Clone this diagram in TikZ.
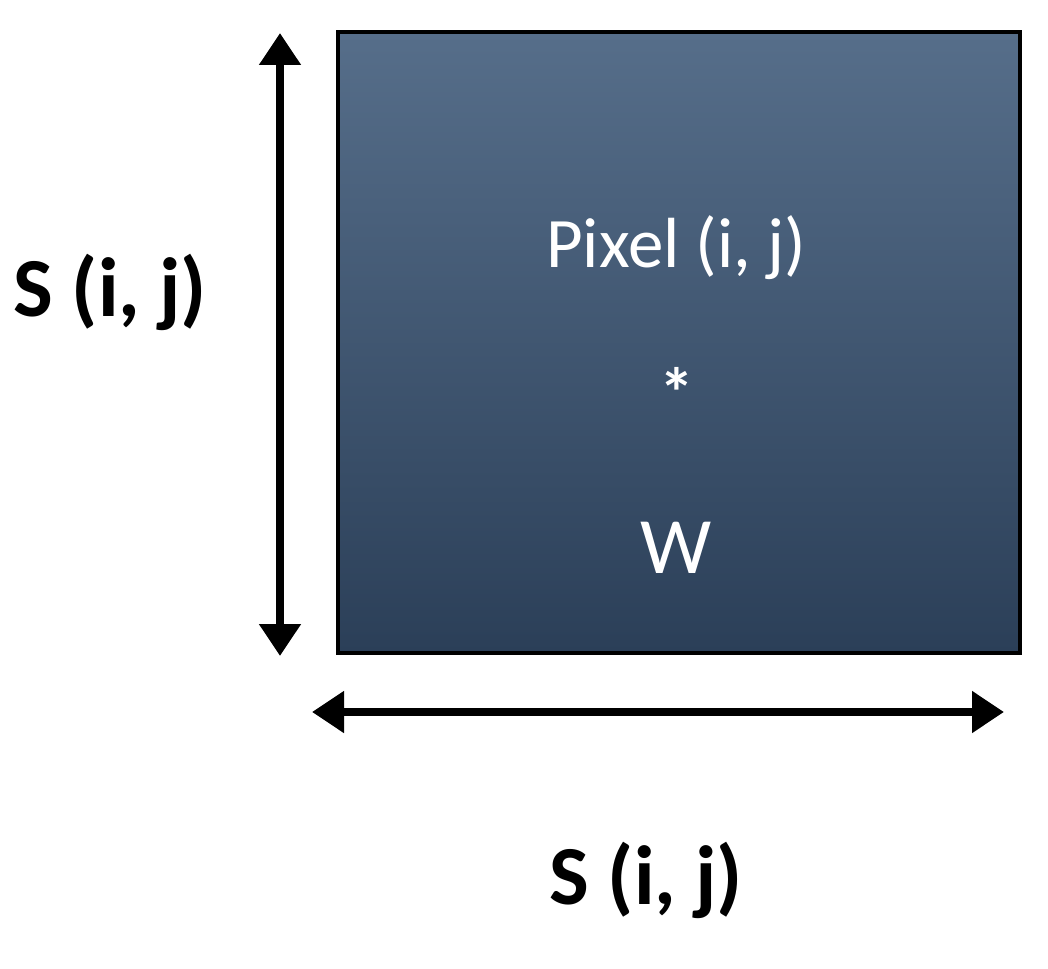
\documentclass[tikz,border=0pt]{standalone}
\usepackage{fontspec}
\setmainfont{Carlito}
\usetikzlibrary{arrows.meta}
\definecolor{topc}{HTML}{566E8A}
\definecolor{botc}{HTML}{2B3F58}
\begin{document}
\begin{tikzpicture}[x=1pt,y=-1pt,
  arr/.style={line width=8pt,{Triangle[length=32pt,width=40pt]}-{Triangle[length=32pt,width=40pt]}},
  lab/.style={font=\fontsize{84}{86}\selectfont\bfseries,text=black},
  inner/.style={text=white}]
\useasboundingbox (0,0) rectangle (1048,968);
\node[draw=black,line width=4pt,top color=topc,bottom color=botc,minimum width=682pt,minimum height=621pt,anchor=north west,inner sep=0pt] (box) at (336,30) {};
\node[inner,font=\fontsize{71}{73}\selectfont] (pix) at (676,248) {Pixel (i, j)};
\node[inner,font=\fontsize{70}{72}\selectfont\bfseries] (star) at (677,392) {*};
\node[inner,font=\fontsize{80}{82}\selectfont] (w) at (676,548) {W};
\coordinate (vt) at (280,33);
\coordinate (vb) at (280,656);
\coordinate (hl) at (312,712);
\coordinate (hr) at (1004,712);
\draw[arr] (vt) -- (vb);
\draw[arr] (hl) -- (hr);
\node[lab] (sl) at (110,292) {S (i, j)};
\node[lab] (sb) at (646,880) {S (i, j)};
\end{tikzpicture}
\end{document}
